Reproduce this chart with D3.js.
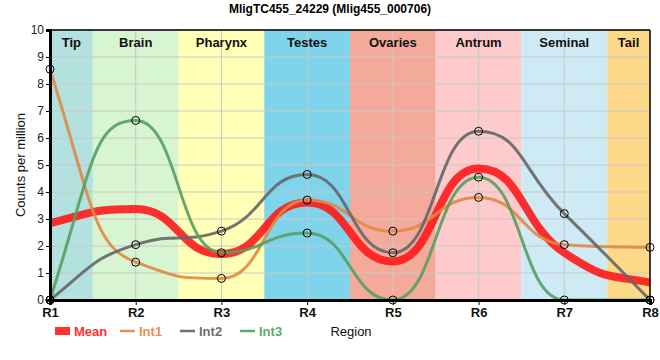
<!DOCTYPE html>
<html><head><meta charset="utf-8">
<script src="https://cdn.jsdelivr.net/npm/d3@7"></script>
<style>body{margin:0;background:#fff;font-family:"Liberation Sans",Arial,sans-serif;}</style>
</head><body><svg id="c" width="660" height="360"></svg>
<script>
const categories = ["R1","R2","R3","R4","R5","R6","R7","R8"];
const regions = ["Tip","Brain","Pharynx","Testes","Ovaries","Antrum","Seminal","Tail"];
const regionColors = ["#b3e1de","#d6f5d0","#ffffb5","#7fd3ea","#f4aa9b","#fdcbcb","#cdeaf5","#fdd98a"];
const int1 = [8.55, 1.4, 0.8, 3.7, 2.55, 3.8, 2.05, 1.95];
const int2 = [0, 2.05, 2.55, 4.65, 1.75, 6.25, 3.2, 0];
const int3 = [0, 6.65, 1.75, 2.48, 0, 4.55, 0, 0];
const mean = [2.85, 3.37, 1.7, 3.61, 1.43, 4.87, 1.75, 0.65];
const yTicks = [0,1,2,3,4,5,6,7,8,9,10];

const svg = d3.select("#c");
const L=50,R=650,T=30,B=300;
const x = d3.scalePoint().domain(categories).range([L,R]);
const y = d3.scaleLinear().domain([0,10]).range([B,T]);
const step = x.step();

// smooth monotone path with long horizontal handles
function smoothPath(vals){
  const px = vals.map((d,i)=>x(categories[i])), py = vals.map(d=>y(d));
  const n = px.length, s=[], t=new Array(n);
  for(let i=0;i<n-1;i++) s.push((py[i+1]-py[i])/(px[i+1]-px[i]));
  for(let i=1;i<n-1;i++){
    const h0=px[i]-px[i-1], h1=px[i+1]-px[i];
    const p=(s[i-1]*h1+s[i]*h0)/(h0+h1);
    t[i]=(Math.sign(s[i-1])+Math.sign(s[i]))*Math.min(Math.abs(s[i-1]),Math.abs(s[i]),0.5*Math.abs(p))||0;
  }
  t[0]=(3*s[0]-t[1])/2; t[n-1]=(3*s[n-2]-t[n-2])/2;
  const k=0.5;
  const p=d3.path(); p.moveTo(px[0],py[0]);
  for(let i=0;i<n-1;i++){
    const h=(px[i+1]-px[i])*k;
    p.bezierCurveTo(px[i]+h, py[i]+t[i]*h, px[i+1]-h, py[i+1]-t[i+1]*h, px[i+1], py[i+1]);
  }
  return p.toString();
}

// bands
const bandX0=i=>Math.max(L, x(categories[i])-step/2), bandX1=i=>Math.min(R, x(categories[i])+step/2);
svg.append("g").selectAll("rect").data(regions).join("rect")
  .attr("x",(d,i)=>bandX0(i)).attr("width",(d,i)=>bandX1(i)-bandX0(i))
  .attr("y",T).attr("height",B-T)
  .attr("fill",(d,i)=>regionColors[i]);

// grid
svg.append("g").selectAll("line").data(yTicks.slice(1)).join("line")
  .attr("x1",L).attr("x2",R).attr("y1",d=>y(d)).attr("y2",d=>y(d))
  .attr("stroke","#c8c8c8").attr("stroke-width",1);
svg.append("g").selectAll("line").data(categories.slice(1,-1)).join("line")
  .attr("x1",d=>x(d)).attr("x2",d=>x(d)).attr("y1",T).attr("y2",B)
  .attr("stroke","#c8c8c8").attr("stroke-width",1);

// band labels
svg.append("g").selectAll("text").data(regions).join("text")
  .attr("x",(d,i)=>(bandX0(i)+bandX1(i))/2)
  .attr("y",47).attr("text-anchor","middle")
  .attr("font-size",13).attr("font-weight","bold").attr("fill","#111")
  .text(d=>d);

// lines
const series = [
  {name:"Int1", v:int1, c:"#e08a45", w:3},
  {name:"Int2", v:int2, c:"#666666", w:3},
  {name:"Int3", v:int3, c:"#55a060", w:3}
];
svg.append("path").attr("d",smoothPath(mean)).attr("fill","none")
  .attr("stroke","#ff1a1a").attr("stroke-width",8).attr("opacity",0.9);
series.forEach(s=>{
  svg.append("path").attr("d",smoothPath(s.v)).attr("fill","none")
    .attr("stroke",s.c).attr("stroke-width",s.w).attr("opacity",0.9);
});
series.forEach(s=>{
  svg.append("g").selectAll("circle").data(s.v).join("circle")
    .attr("cx",(d,i)=>x(categories[i])).attr("cy",d=>y(d)).attr("r",4)
    .attr("fill","none").attr("stroke","#000").attr("stroke-width",1);
});

// frame
svg.append("line").attr("x1",L).attr("x2",R).attr("y1",T).attr("y2",T).attr("stroke","#000").attr("stroke-width",1.5);
svg.append("line").attr("x1",R).attr("x2",R).attr("y1",T).attr("y2",B).attr("stroke","#000").attr("stroke-width",1.5);

// axes
const ya = svg.append("g").attr("transform",`translate(${L},0)`)
  .call(d3.axisLeft(y).tickValues(yTicks).tickSize(4).tickPadding(2));
ya.select(".domain").attr("stroke-width",3);
ya.selectAll("text").attr("font-size",12).attr("font-family","Liberation Sans, Arial").attr("fill","#222");
const xa = svg.append("g").attr("transform",`translate(0,${B})`)
  .call(d3.axisBottom(x).tickSize(5).tickPadding(3));
xa.select(".domain").attr("stroke-width",3);
xa.selectAll("text").attr("font-size",13).attr("font-weight","bold").attr("font-family","Liberation Sans, Arial").attr("fill","#111");

// title
svg.append("text").attr("x",330).attr("y",13).attr("text-anchor","middle")
  .attr("font-size",12).attr("font-weight","bold").text("MligTC455_24229 (Mlig455_000706)");
// y label
svg.append("text").attr("transform","translate(25,165) rotate(-90)").attr("text-anchor","middle")
  .attr("font-size",13).attr("fill","#111").text("Counts per million");

// legend
const lg = svg.append("g");
const legend = [
  {name:"Mean", c:"#ff3030", x:55, rect:true},
  {name:"Int1", c:"#e89050", x:120},
  {name:"Int2", c:"#707070", x:180},
  {name:"Int3", c:"#60aa70", x:240}
];
legend.forEach(l=>{
  if(l.rect) lg.append("rect").attr("x",l.x).attr("y",327).attr("width",15).attr("height",8).attr("fill",l.c);
  else lg.append("line").attr("x1",l.x).attr("x2",l.x+15).attr("y1",331).attr("y2",331).attr("stroke",l.c).attr("stroke-width",2.5);
  lg.append("text").attr("x",l.x+19).attr("y",336).attr("font-size",13).attr("font-weight","bold")
    .attr("fill",l.c).text(l.name);
});
lg.append("text").attr("x",351).attr("y",336).attr("text-anchor","middle").attr("font-size",13).attr("fill","#111").text("Region");
</script></body></html>
